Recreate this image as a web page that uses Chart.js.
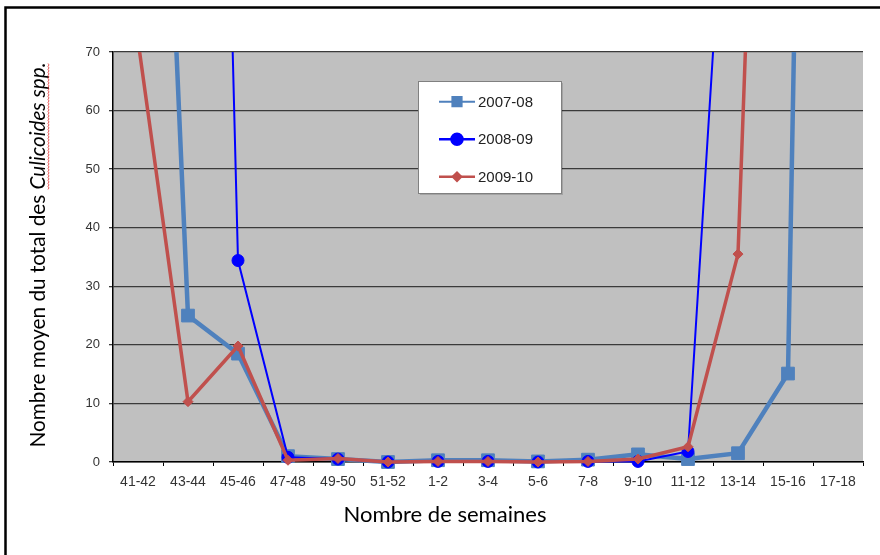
<!DOCTYPE html>
<html>
<head>
<meta charset="utf-8">
<script src="https://cdn.jsdelivr.net/npm/chart.js@4"></script>
<style>
  html, body { margin: 0; padding: 0; background: #fff; }
  #wrap { width: 880px; height: 555px; position: relative; }
</style>
</head>
<body>
<div id="wrap"><canvas id="c" width="880" height="555"></canvas></div>
<script>
// ---- data ----
const categories = ["41-42","43-44","45-46","47-48","49-50","51-52","1-2","3-4","5-6","7-8","9-10","11-12","13-14","15-16","17-18"];
const seriesNames = ["2007-08","2008-09","2009-10"];
const s2007_08 = [220, 25, 18.5, 1.0, 0.5, 0, 0.3, 0.3, 0.1, 0.4, 1.3, 0.5, 1.5, 15.1, 480];
const s2008_09 = [null, 370, 34.4, 0.8, 0.5, 0, 0.1, 0.1, 0, 0.1, 0.1, 1.8, 138, null, null];
const s2009_10 = [72, 10.3, 19.8, 0.3, 0.6, 0, 0.1, 0.1, 0, 0.1, 0.5, 2.6, 35.5, 270, null];
const yTicks = [0, 10, 20, 30, 40, 50, 60, 70];
const yTitleNormal = "Nombre moyen du total des ";
const yTitleItalic = "Culicoides spp.";
const xTitle = "Nombre de semaines";

const colors = ["#4F81BD", "#0000FF", "#C0504D"];

const framePlugin = {
  id: 'framePlugin',
  beforeDraw(chart) {
    const ctx = chart.ctx, a = chart.chartArea;
    ctx.save();
    ctx.fillStyle = '#fff';
    ctx.fillRect(0, 0, chart.width, chart.height);
    ctx.fillStyle = '#C0C0C0';
    ctx.fillRect(a.left, a.top, a.right - a.left, a.bottom - a.top);
    ctx.restore();
  },
  afterDraw(chart) {
    const ctx = chart.ctx;
    ctx.save();
    // outer frame (top & left)
    ctx.strokeStyle = '#000';
    ctx.lineWidth = 2.5;
    ctx.beginPath();
    ctx.moveTo(880, 7.5); ctx.lineTo(5.5, 7.5); ctx.lineTo(5.5, 555);
    ctx.stroke();

    // y title
    const fam = 'Lato, "Open Sans", sans-serif';
    let fs = 20;
    ctx.font = fs + 'px ' + fam;
    let w1 = ctx.measureText(yTitleNormal).width;
    ctx.font = 'italic ' + fs + 'px ' + fam;
    let w2 = ctx.measureText(yTitleItalic).width;
    fs = fs * 385 / (w1 + w2);
    ctx.font = fs + 'px ' + fam;
    w1 = ctx.measureText(yTitleNormal).width;
    ctx.font = 'italic ' + fs + 'px ' + fam;
    w2 = ctx.measureText(yTitleItalic).width;
    ctx.translate(45, 255);
    ctx.rotate(-Math.PI / 2);
    ctx.fillStyle = '#000';
    ctx.textBaseline = 'alphabetic';
    ctx.textAlign = 'left';
    const x0 = -(w1 + w2) / 2;
    ctx.font = fs + 'px ' + fam;
    ctx.fillText(yTitleNormal, x0, 0);
    ctx.font = 'italic ' + fs + 'px ' + fam;
    ctx.fillText(yTitleItalic, x0 + w1, 0);
    // spell-check squiggle
    ctx.strokeStyle = '#E03030';
    ctx.lineWidth = 0.8;
    ctx.beginPath();
    for (let x = x0 + w1; x <= x0 + w1 + w2; x += 1.5) {
      const yy = 3 + (Math.round((x - x0 - w1) / 1.5) % 2 ? 1 : 0);
      if (x === x0 + w1) ctx.moveTo(x, yy); else ctx.lineTo(x, yy);
    }
    ctx.stroke();
    ctx.restore();

    // x title
    ctx.save();
    let fx = 20;
    ctx.font = fx + 'px ' + fam;
    fx = fx * 203 / ctx.measureText(xTitle).width;
    ctx.font = fx + 'px ' + fam;
    ctx.fillStyle = '#000';
    ctx.textAlign = 'center';
    ctx.textBaseline = 'alphabetic';
    ctx.fillText(xTitle, 445, 522);
    ctx.restore();

    // legend
    ctx.save();
    ctx.fillStyle = 'rgba(0,0,0,0.15)';
    ctx.fillRect(420, 83, 143, 112);
    ctx.fillStyle = '#fff';
    ctx.fillRect(418.5, 81.5, 143, 112);
    ctx.strokeStyle = '#808080';
    ctx.lineWidth = 1;
    ctx.strokeRect(418.5, 81.5, 143, 112);
    const rows = [101.7, 139.3, 176.7];
    chart.data.datasets.forEach((ds, i) => {
      const y = rows[i];
      ctx.strokeStyle = ds.borderColor;
      ctx.lineWidth = i === 0 ? 2 : 2.5;
      ctx.beginPath();
      ctx.moveTo(439, y); ctx.lineTo(475, y);
      ctx.stroke();
      ctx.fillStyle = ds.borderColor;
      ctx.strokeStyle = ds.borderColor;
      Chart.helpers.drawPoint(ctx, {
        pointStyle: ds.pointStyle,
        radius: i === 0 ? 6.5 : (i === 1 ? 5.5 : 4),
        borderWidth: 1,
        rotation: 0
      }, 457, y);
      ctx.fillStyle = '#222';
      ctx.font = '15px "Liberation Sans", Arial, sans-serif';
      ctx.textAlign = 'left';
      ctx.textBaseline = 'middle';
      ctx.fillText(ds.label, 478, y + 1);
    });
    ctx.restore();
  }
};

const ctx = document.getElementById('c').getContext('2d');
new Chart(ctx, {
  type: 'line',
  data: {
    labels: categories,
    datasets: [
      {
        label: seriesNames[0], data: s2007_08, borderColor: colors[0], backgroundColor: colors[0],
        borderWidth: 4.5, pointStyle: 'rect', pointRadius: 9, pointHoverRadius: 9, pointBorderWidth: 1,
        tension: 0, order: 3, spanGaps: false, clip: {left: 10, top: 0, right: 10, bottom: 10}
      },
      {
        label: seriesNames[1], data: s2008_09, borderColor: colors[1], backgroundColor: colors[1],
        borderWidth: 2, pointStyle: 'circle', pointRadius: 6, pointHoverRadius: 6, pointBorderWidth: 1,
        tension: 0, order: 2, spanGaps: false, clip: {left: 10, top: 0, right: 10, bottom: 10}
      },
      {
        label: seriesNames[2], data: s2009_10, borderColor: colors[2], backgroundColor: colors[2],
        borderWidth: 3.5, pointStyle: 'rectRot', pointRadius: 5, pointHoverRadius: 5, pointBorderWidth: 1,
        tension: 0, order: 1, spanGaps: false, clip: {left: 10, top: 0, right: 10, bottom: 10}
      }
    ]
  },
  options: {
    responsive: false,
    animation: false,
    events: [],
    layout: { padding: { top: 52, left: 0, right: 17, bottom: 0 } },
    plugins: {
      legend: { display: false },
      tooltip: { enabled: false }
    },
    scales: {
      x: {
        type: 'category',
        offset: true,
        grid: { display: true, offset: true, drawOnChartArea: false, drawTicks: true, tickLength: 4, color: '#000', lineWidth: 1 },
        border: { display: true, color: '#000', width: 1.5 },
        ticks: { color: '#333', font: { family: '"Liberation Sans", Arial, sans-serif', size: 14 }, padding: 8, maxRotation: 0, autoSkip: false },
        afterFit(scale) { scale.height = 93; }
      },
      y: {
        min: 0, max: 70,
        afterBuildTicks(scale) { scale.ticks = yTicks.map(v => ({ value: v })); },
        grid: { color: '#3a3a3a', lineWidth: 1.3, tickLength: 4, drawTicks: true },
        border: { display: true, color: '#000', width: 1.5 },
        ticks: { color: '#333', font: { family: '"Liberation Sans", Arial, sans-serif', size: 13 }, padding: 9 },
        afterFit(scale) { scale.width = 113; }
      }
    }
  },
  plugins: [framePlugin]
});
</script>
</body>
</html>
